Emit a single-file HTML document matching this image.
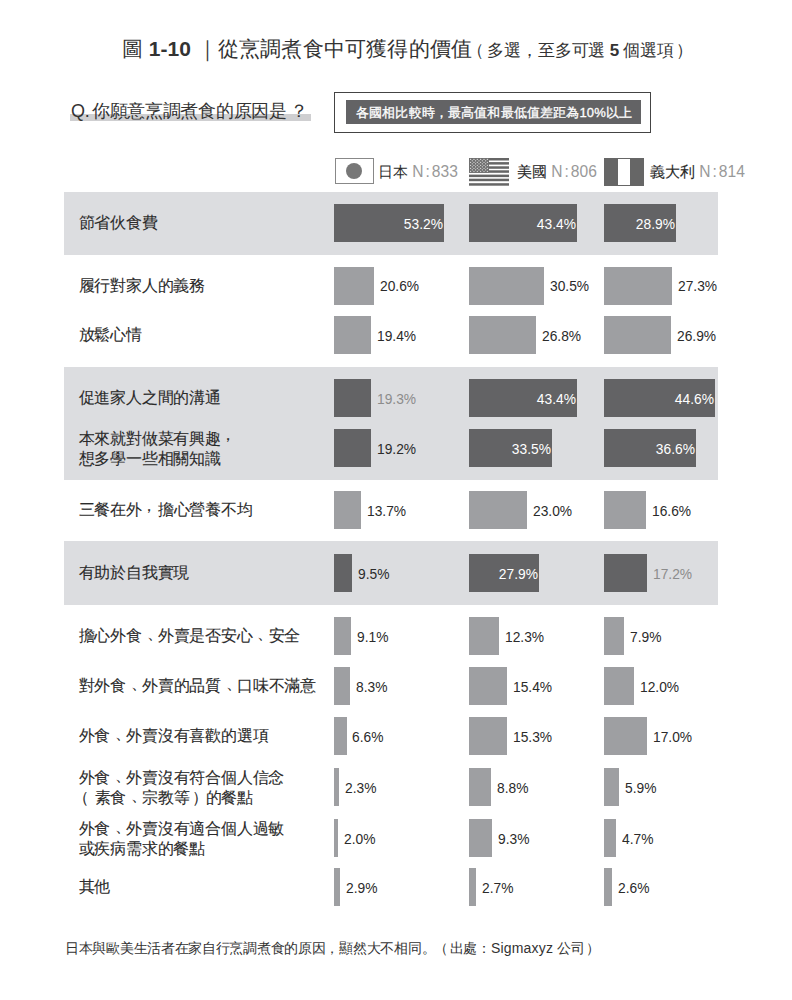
<!DOCTYPE html>
<html><head><meta charset="utf-8"><style>
html,body{margin:0;padding:0;background:#fff;}
body{width:792px;height:1000px;position:relative;overflow:hidden;font-family:"Liberation Sans",sans-serif;color:#2b2b2b;}
div{position:absolute;white-space:nowrap;} .fw{display:inline-block;width:1em;text-align:center;}
.band{left:64px;width:654px;background:#dcdde0;}
.lab{left:78.5px;font-size:16px;letter-spacing:-0.2px;line-height:22px;-webkit-text-stroke:0.1px #2b2b2b;}
.lab2{left:78.5px;font-size:16px;letter-spacing:-0.2px;line-height:20px;-webkit-text-stroke:0.1px #2b2b2b;}
.bar{height:38px;}
.vin{height:38px;line-height:38px;font-size:15.5px;color:#fff;text-align:right;} .vin span{display:inline-block;transform:scaleX(.89);transform-origin:100% 50%;}
.vout{height:38px;line-height:38px;font-size:15.5px;} .vout span{display:inline-block;transform:scaleX(.89);transform-origin:0 50%;}
.title{left:122px;top:30px;font-size:21px;line-height:38px;color:#333;}
.title b{font-weight:bold;}
.title .sub{font-size:17px;letter-spacing:-0.2px;margin-left:-2px;}
.q{left:71px;top:96.5px;font-size:18px;letter-spacing:-0.3px;line-height:28px;color:#333;}
.qline{left:70px;top:114px;width:241px;height:7px;background:#cfcfd1;}
.box{left:334px;top:92px;width:315px;height:39px;border:1px solid #444;}
.boxin{left:346px;top:100px;width:295px;height:24px;background:#636365;color:#fff;font-size:13px;line-height:24px;-webkit-text-stroke:0.3px #fff;letter-spacing:0.15px;}
.leg{top:158px;font-size:15px;line-height:28px;}
.leg span{color:#999;font-size:15.6px;} .leg i{font-style:normal;margin:0 2px;} .nm{font-weight:normal;-webkit-text-stroke:0.12px #2b2b2b;}
.foot{left:65px;top:938px;font-size:14px;letter-spacing:-0.3px;line-height:20px;color:#333;}
</style></head><body>
<div class="band" style="top:192px;height:63px"></div>
<div class="band" style="top:367px;height:113px"></div>
<div class="band" style="top:541px;height:64px"></div>
<div class="lab" style="top:212.0px">節省伙食費</div>
<div class="bar" style="left:334px;top:204px;width:110px;background:#636365"></div>
<div class="vin" style="left:334px;top:204.5px;width:108.5px"><span>53.2%</span></div>
<div class="bar" style="left:469px;top:204px;width:108px;background:#636365"></div>
<div class="vin" style="left:469px;top:204.5px;width:106.5px"><span>43.4%</span></div>
<div class="bar" style="left:604px;top:204px;width:72px;background:#636365"></div>
<div class="vin" style="left:604px;top:204.5px;width:70.5px"><span>28.9%</span></div>
<div class="lab" style="top:274.5px">履行對家人的義務</div>
<div class="bar" style="left:334px;top:266.5px;width:40px;background:#9e9fa2"></div>
<div class="vout" style="left:379.6px;top:267.0px;color:#2b2b2b"><span>20.6%</span></div>
<div class="bar" style="left:469px;top:266.5px;width:75px;background:#9e9fa2"></div>
<div class="vout" style="left:549.6px;top:267.0px;color:#2b2b2b"><span>30.5%</span></div>
<div class="bar" style="left:604px;top:266.5px;width:68px;background:#9e9fa2"></div>
<div class="vout" style="left:677.6px;top:267.0px;color:#2b2b2b"><span>27.3%</span></div>
<div class="lab" style="top:324.0px">放鬆心情</div>
<div class="bar" style="left:334px;top:316px;width:37px;background:#9e9fa2"></div>
<div class="vout" style="left:376.6px;top:316.5px;color:#2b2b2b"><span>19.4%</span></div>
<div class="bar" style="left:469px;top:316px;width:67px;background:#9e9fa2"></div>
<div class="vout" style="left:541.6px;top:316.5px;color:#2b2b2b"><span>26.8%</span></div>
<div class="bar" style="left:604px;top:316px;width:67px;background:#9e9fa2"></div>
<div class="vout" style="left:676.6px;top:316.5px;color:#2b2b2b"><span>26.9%</span></div>
<div class="lab" style="top:387.0px">促進家人之間的溝通</div>
<div class="bar" style="left:334px;top:379px;width:37px;background:#636365"></div>
<div class="vout" style="left:376.6px;top:379.5px;color:#8c8c8c"><span>19.3%</span></div>
<div class="bar" style="left:469px;top:379px;width:108px;background:#636365"></div>
<div class="vin" style="left:469px;top:379.5px;width:106.5px"><span>43.4%</span></div>
<div class="bar" style="left:604px;top:379px;width:111px;background:#636365"></div>
<div class="vin" style="left:604px;top:379.5px;width:109.5px"><span>44.6%</span></div>
<div class="lab2" style="top:429.0px">本來就對做菜有興趣<span class="fw"><span style="position:relative;left:-0.05em;top:-0.22em">，</span></span><br>想多學一些相關知識</div>
<div class="bar" style="left:334px;top:429px;width:37px;background:#636365"></div>
<div class="vout" style="left:376.6px;top:429.5px;color:#2b2b2b"><span>19.2%</span></div>
<div class="bar" style="left:469px;top:429px;width:83px;background:#636365"></div>
<div class="vin" style="left:469px;top:429.5px;width:81.5px"><span>33.5%</span></div>
<div class="bar" style="left:604px;top:429px;width:92px;background:#636365"></div>
<div class="vin" style="left:604px;top:429.5px;width:90.5px"><span>36.6%</span></div>
<div class="lab" style="top:499.0px">三餐在外<span class="fw"><span style="position:relative;left:-0.05em;top:-0.22em">，</span></span>擔心營養不均</div>
<div class="bar" style="left:334px;top:491px;width:27px;background:#9e9fa2"></div>
<div class="vout" style="left:366.6px;top:491.5px;color:#2b2b2b"><span>13.7%</span></div>
<div class="bar" style="left:469px;top:491px;width:58px;background:#9e9fa2"></div>
<div class="vout" style="left:532.6px;top:491.5px;color:#2b2b2b"><span>23.0%</span></div>
<div class="bar" style="left:604px;top:491px;width:42px;background:#9e9fa2"></div>
<div class="vout" style="left:651.6px;top:491.5px;color:#2b2b2b"><span>16.6%</span></div>
<div class="lab" style="top:562.0px">有助於自我實現</div>
<div class="bar" style="left:334px;top:554px;width:18px;background:#636365"></div>
<div class="vout" style="left:357.6px;top:554.5px;color:#2b2b2b"><span>9.5%</span></div>
<div class="bar" style="left:469px;top:554px;width:70px;background:#636365"></div>
<div class="vin" style="left:469px;top:554.5px;width:68.5px"><span>27.9%</span></div>
<div class="bar" style="left:604px;top:554px;width:43px;background:#636365"></div>
<div class="vout" style="left:652.6px;top:554.5px;color:#8c8c8c"><span>17.2%</span></div>
<div class="lab" style="top:625.0px">擔心外食<span class="fw"><span style="position:relative;left:0.3em;top:-0.12em">、</span></span>外賣是否安心<span class="fw"><span style="position:relative;left:0.3em;top:-0.12em">、</span></span>安全</div>
<div class="bar" style="left:334px;top:617px;width:17px;background:#9e9fa2"></div>
<div class="vout" style="left:356.6px;top:617.5px;color:#2b2b2b"><span>9.1%</span></div>
<div class="bar" style="left:469px;top:617px;width:30px;background:#9e9fa2"></div>
<div class="vout" style="left:504.6px;top:617.5px;color:#2b2b2b"><span>12.3%</span></div>
<div class="bar" style="left:604px;top:617px;width:20px;background:#9e9fa2"></div>
<div class="vout" style="left:629.6px;top:617.5px;color:#2b2b2b"><span>7.9%</span></div>
<div class="lab" style="top:675.0px">對外食<span class="fw"><span style="position:relative;left:0.3em;top:-0.12em">、</span></span>外賣的品質<span class="fw"><span style="position:relative;left:0.3em;top:-0.12em">、</span></span>口味不滿意</div>
<div class="bar" style="left:334px;top:667px;width:16px;background:#9e9fa2"></div>
<div class="vout" style="left:355.6px;top:667.5px;color:#2b2b2b"><span>8.3%</span></div>
<div class="bar" style="left:469px;top:667px;width:38px;background:#9e9fa2"></div>
<div class="vout" style="left:512.6px;top:667.5px;color:#2b2b2b"><span>15.4%</span></div>
<div class="bar" style="left:604px;top:667px;width:30px;background:#9e9fa2"></div>
<div class="vout" style="left:639.6px;top:667.5px;color:#2b2b2b"><span>12.0%</span></div>
<div class="lab" style="top:725.0px">外食<span class="fw"><span style="position:relative;left:0.3em;top:-0.12em">、</span></span>外賣沒有喜歡的選項</div>
<div class="bar" style="left:334px;top:717px;width:12.5px;background:#9e9fa2"></div>
<div class="vout" style="left:352.1px;top:717.5px;color:#2b2b2b"><span>6.6%</span></div>
<div class="bar" style="left:469px;top:717px;width:38px;background:#9e9fa2"></div>
<div class="vout" style="left:512.6px;top:717.5px;color:#2b2b2b"><span>15.3%</span></div>
<div class="bar" style="left:604px;top:717px;width:43px;background:#9e9fa2"></div>
<div class="vout" style="left:652.6px;top:717.5px;color:#2b2b2b"><span>17.0%</span></div>
<div class="lab2" style="top:768.0px">外食<span class="fw"><span style="position:relative;left:0.3em;top:-0.12em">、</span></span>外賣沒有符合個人信念<br><span class="fw"><span style="position:relative;left:-0.35em;top:0em">（</span></span>素食<span class="fw"><span style="position:relative;left:0.3em;top:-0.12em">、</span></span>宗教等<span class="fw"><span style="position:relative;left:0.13em;top:0em">）</span></span>的餐點</div>
<div class="bar" style="left:334px;top:768px;width:5px;background:#9e9fa2"></div>
<div class="vout" style="left:344.6px;top:768.5px;color:#2b2b2b"><span>2.3%</span></div>
<div class="bar" style="left:469px;top:768px;width:22px;background:#9e9fa2"></div>
<div class="vout" style="left:496.6px;top:768.5px;color:#2b2b2b"><span>8.8%</span></div>
<div class="bar" style="left:604px;top:768px;width:15px;background:#9e9fa2"></div>
<div class="vout" style="left:624.6px;top:768.5px;color:#2b2b2b"><span>5.9%</span></div>
<div class="lab2" style="top:819.0px">外食<span class="fw"><span style="position:relative;left:0.3em;top:-0.12em">、</span></span>外賣沒有適合個人過敏<br>或疾病需求的餐點</div>
<div class="bar" style="left:334px;top:819px;width:4px;background:#9e9fa2"></div>
<div class="vout" style="left:343.6px;top:819.5px;color:#2b2b2b"><span>2.0%</span></div>
<div class="bar" style="left:469px;top:819px;width:23px;background:#9e9fa2"></div>
<div class="vout" style="left:497.6px;top:819.5px;color:#2b2b2b"><span>9.3%</span></div>
<div class="bar" style="left:604px;top:819px;width:12px;background:#9e9fa2"></div>
<div class="vout" style="left:621.6px;top:819.5px;color:#2b2b2b"><span>4.7%</span></div>
<div class="lab" style="top:876.0px">其他</div>
<div class="bar" style="left:334px;top:868px;width:6px;background:#9e9fa2"></div>
<div class="vout" style="left:345.6px;top:868.5px;color:#2b2b2b"><span>2.9%</span></div>
<div class="bar" style="left:469px;top:868px;width:7px;background:#9e9fa2"></div>
<div class="vout" style="left:481.6px;top:868.5px;color:#2b2b2b"><span>2.7%</span></div>
<div class="bar" style="left:604px;top:868px;width:8px;background:#9e9fa2"></div>
<div class="vout" style="left:617.6px;top:868.5px;color:#2b2b2b"><span>2.6%</span></div>
<div class="title">圖 <b>1-10</b> ｜<span style="letter-spacing:0.22px">從烹調煮食中可獲得的價值</span><span class="sub"><span class="fw"><span style="position:relative;left:-0.2em;top:0em">（</span></span>多選<span class="fw">，</span>至多可選 <b>5</b> 個選項<span class="fw"><span style="position:relative;left:0.13em;top:0em">）</span></span></span></div>
<div class="qline"></div>
<div class="q">Q.<span style="margin-left:2.5px"></span>你願意烹調煮食的原因是<span class="fw"><span style="position:relative;left:0.17em">？</span></span></div>
<div class="box"></div>
<div class="boxin"><span style="position:absolute;left:10px;top:1px">各國相比較時<span class="fw">，</span>最高值和最低值差距為10%以上</span></div>
<div style="left:335px;top:158px;width:37px;height:24px;border:1px solid #888;background:#fff"></div>
<div style="left:346px;top:163px;width:16px;height:16px;border-radius:50%;background:#777"></div>
<div class="leg" style="left:378px">日本 <span>N<i>:</i>833</span></div>
<div style="left:469px;top:158px;width:40px;height:28px"><svg width="40" height="28" viewBox="0 0 40 28"><rect x="0" y="0" width="40" height="2.5" fill="#666"/><rect x="0" y="4.1" width="40" height="2.5" fill="#666"/><rect x="0" y="8.3" width="40" height="2.5" fill="#666"/><rect x="0" y="12.3" width="40" height="2.5" fill="#666"/><rect x="0" y="16.6" width="40" height="2.5" fill="#666"/><rect x="0" y="20.7" width="40" height="2.5" fill="#666"/><rect x="0" y="25.2" width="40" height="2.5" fill="#666"/><rect x="0" y="0" width="20" height="14.7" fill="#707070"/><circle cx="1.60" cy="1.30" r="0.62" fill="#e8e8e8"/><circle cx="4.95" cy="1.30" r="0.62" fill="#e8e8e8"/><circle cx="8.30" cy="1.30" r="0.62" fill="#e8e8e8"/><circle cx="11.65" cy="1.30" r="0.62" fill="#e8e8e8"/><circle cx="15.00" cy="1.30" r="0.62" fill="#e8e8e8"/><circle cx="18.35" cy="1.30" r="0.62" fill="#e8e8e8"/><circle cx="3.28" cy="2.80" r="0.62" fill="#e8e8e8"/><circle cx="6.62" cy="2.80" r="0.62" fill="#e8e8e8"/><circle cx="9.98" cy="2.80" r="0.62" fill="#e8e8e8"/><circle cx="13.33" cy="2.80" r="0.62" fill="#e8e8e8"/><circle cx="16.68" cy="2.80" r="0.62" fill="#e8e8e8"/><circle cx="1.60" cy="4.30" r="0.62" fill="#e8e8e8"/><circle cx="4.95" cy="4.30" r="0.62" fill="#e8e8e8"/><circle cx="8.30" cy="4.30" r="0.62" fill="#e8e8e8"/><circle cx="11.65" cy="4.30" r="0.62" fill="#e8e8e8"/><circle cx="15.00" cy="4.30" r="0.62" fill="#e8e8e8"/><circle cx="18.35" cy="4.30" r="0.62" fill="#e8e8e8"/><circle cx="3.28" cy="5.80" r="0.62" fill="#e8e8e8"/><circle cx="6.62" cy="5.80" r="0.62" fill="#e8e8e8"/><circle cx="9.98" cy="5.80" r="0.62" fill="#e8e8e8"/><circle cx="13.33" cy="5.80" r="0.62" fill="#e8e8e8"/><circle cx="16.68" cy="5.80" r="0.62" fill="#e8e8e8"/><circle cx="1.60" cy="7.30" r="0.62" fill="#e8e8e8"/><circle cx="4.95" cy="7.30" r="0.62" fill="#e8e8e8"/><circle cx="8.30" cy="7.30" r="0.62" fill="#e8e8e8"/><circle cx="11.65" cy="7.30" r="0.62" fill="#e8e8e8"/><circle cx="15.00" cy="7.30" r="0.62" fill="#e8e8e8"/><circle cx="18.35" cy="7.30" r="0.62" fill="#e8e8e8"/><circle cx="3.28" cy="8.80" r="0.62" fill="#e8e8e8"/><circle cx="6.62" cy="8.80" r="0.62" fill="#e8e8e8"/><circle cx="9.98" cy="8.80" r="0.62" fill="#e8e8e8"/><circle cx="13.33" cy="8.80" r="0.62" fill="#e8e8e8"/><circle cx="16.68" cy="8.80" r="0.62" fill="#e8e8e8"/><circle cx="1.60" cy="10.30" r="0.62" fill="#e8e8e8"/><circle cx="4.95" cy="10.30" r="0.62" fill="#e8e8e8"/><circle cx="8.30" cy="10.30" r="0.62" fill="#e8e8e8"/><circle cx="11.65" cy="10.30" r="0.62" fill="#e8e8e8"/><circle cx="15.00" cy="10.30" r="0.62" fill="#e8e8e8"/><circle cx="18.35" cy="10.30" r="0.62" fill="#e8e8e8"/><circle cx="3.28" cy="11.80" r="0.62" fill="#e8e8e8"/><circle cx="6.62" cy="11.80" r="0.62" fill="#e8e8e8"/><circle cx="9.98" cy="11.80" r="0.62" fill="#e8e8e8"/><circle cx="13.33" cy="11.80" r="0.62" fill="#e8e8e8"/><circle cx="16.68" cy="11.80" r="0.62" fill="#e8e8e8"/><circle cx="1.60" cy="13.30" r="0.62" fill="#e8e8e8"/><circle cx="4.95" cy="13.30" r="0.62" fill="#e8e8e8"/><circle cx="8.30" cy="13.30" r="0.62" fill="#e8e8e8"/><circle cx="11.65" cy="13.30" r="0.62" fill="#e8e8e8"/><circle cx="15.00" cy="13.30" r="0.62" fill="#e8e8e8"/><circle cx="18.35" cy="13.30" r="0.62" fill="#e8e8e8"/></svg></div>
<div class="leg" style="left:517px"><b class="nm">美國</b> <span>N<i>:</i>806</span></div>
<div style="left:604px;top:158px;width:40px;height:28px;background:#666"></div>
<div style="left:618px;top:159px;width:12px;height:26px;background:#fff"></div>
<div class="leg" style="left:650px"><b class="nm">義大利</b> <span>N<i>:</i>814</span></div>
<div class="foot">日本與歐美生活者在家自行烹調煮食的原因<span class="fw">，</span>顯然大不相同<span class="fw">。</span><span class="fw"><span style="position:relative;left:-0.1em;top:0em">（</span></span>出處<span class="fw">：</span><span style="letter-spacing:0.2px">Sigmaxyz</span> 公司<span class="fw"><span style="position:relative;left:0.13em;top:0em">）</span></span></div>
</body></html>
